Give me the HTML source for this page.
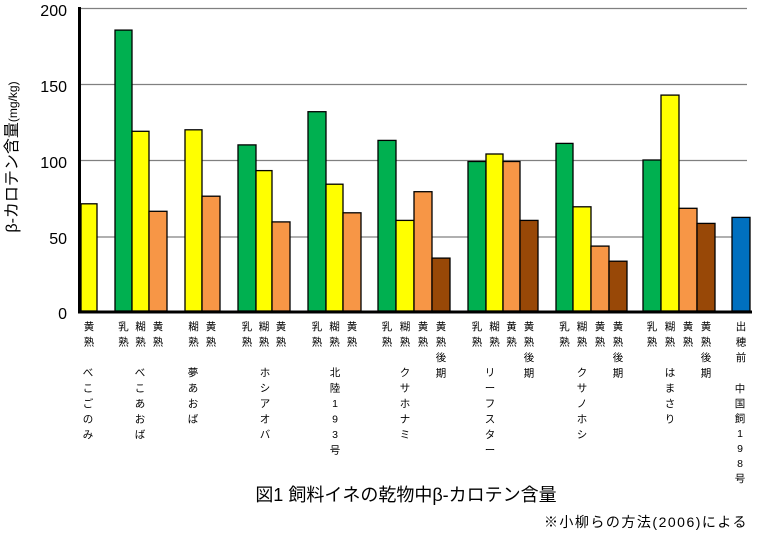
<!DOCTYPE html>
<html><head><meta charset="utf-8"><style>
body{margin:0;background:#fff;width:759px;height:541px;overflow:hidden}
svg text{font-family:"Liberation Sans","Noto Sans CJK JP",sans-serif}
.l{font-size:10.5px;fill:#000;text-anchor:middle}
</style></head><body>
<svg width="759" height="541" viewBox="0 0 759 541" xmlns="http://www.w3.org/2000/svg">
<g stroke="#808080" stroke-width="1.2">
<line x1="80" y1="8.5" x2="747" y2="8.5"/>
<line x1="80" y1="84.5" x2="747" y2="84.5"/>
<line x1="80" y1="160.5" x2="747" y2="160.5"/>
<line x1="80" y1="237" x2="747" y2="237"/>
</g>
<g font-size="16" fill="#000" text-anchor="end">
<text x="67" y="16">200</text><text x="67" y="92">150</text><text x="67" y="168">100</text><text x="67" y="244">50</text><text x="67" y="319">0</text>
</g>
<text transform="translate(17,157) rotate(-90)" font-size="16" text-anchor="middle">β-カロテン含量<tspan font-size="12">(mg/kg)</tspan></text>
<g stroke="#000" stroke-width="1.3">
<rect x="81" y="203.8" width="16" height="107.2" fill="#ffff00"/>
<rect x="115" y="30.1" width="17" height="280.9" fill="#00b050"/>
<rect x="132" y="131.3" width="17" height="179.7" fill="#ffff00"/>
<rect x="149" y="211.3" width="18" height="99.7" fill="#f79646"/>
<rect x="185" y="129.8" width="17" height="181.2" fill="#ffff00"/>
<rect x="202" y="196.2" width="18" height="114.8" fill="#f79646"/>
<rect x="238" y="144.9" width="18" height="166.1" fill="#00b050"/>
<rect x="256" y="170.6" width="16" height="140.4" fill="#ffff00"/>
<rect x="272" y="221.9" width="18" height="89.1" fill="#f79646"/>
<rect x="308" y="111.7" width="18" height="199.3" fill="#00b050"/>
<rect x="326" y="184.2" width="17" height="126.8" fill="#ffff00"/>
<rect x="343" y="212.8" width="18" height="98.2" fill="#f79646"/>
<rect x="378" y="140.4" width="18" height="170.6" fill="#00b050"/>
<rect x="396" y="220.4" width="18" height="90.6" fill="#ffff00"/>
<rect x="414" y="191.7" width="18" height="119.3" fill="#f79646"/>
<rect x="432" y="258.1" width="18" height="52.9" fill="#984807"/>
<rect x="468" y="161.5" width="18" height="149.5" fill="#00b050"/>
<rect x="486" y="154" width="17" height="157" fill="#ffff00"/>
<rect x="503" y="161.5" width="17" height="149.5" fill="#f79646"/>
<rect x="520" y="220.4" width="18" height="90.6" fill="#984807"/>
<rect x="556" y="143.4" width="17" height="167.6" fill="#00b050"/>
<rect x="573" y="206.8" width="18" height="104.2" fill="#ffff00"/>
<rect x="591" y="246.1" width="18" height="64.9" fill="#f79646"/>
<rect x="609" y="261.2" width="18" height="49.8" fill="#984807"/>
<rect x="643" y="160" width="18" height="151" fill="#00b050"/>
<rect x="661" y="95.1" width="18" height="215.9" fill="#ffff00"/>
<rect x="679" y="208.3" width="18" height="102.7" fill="#f79646"/>
<rect x="697" y="223.4" width="18" height="87.6" fill="#984807"/>
<rect x="732" y="217.4" width="18" height="93.6" fill="#0070c0"/>
</g>
<line x1="79.5" y1="7" x2="79.5" y2="313" stroke="#000" stroke-width="3"/>
<line x1="78" y1="312" x2="752" y2="312" stroke="#000" stroke-width="3"/>
<g class="l">
<text class="l" x="89" y="330">黄<tspan x="89" dy="15.5">熟</tspan></text>
<text class="l" x="123.5" y="330">乳<tspan x="123.5" dy="15.5">熟</tspan></text>
<text class="l" x="140.5" y="330">糊<tspan x="140.5" dy="15.5">熟</tspan></text>
<text class="l" x="158" y="330">黄<tspan x="158" dy="15.5">熟</tspan></text>
<text class="l" x="193.5" y="330">糊<tspan x="193.5" dy="15.5">熟</tspan></text>
<text class="l" x="211" y="330">黄<tspan x="211" dy="15.5">熟</tspan></text>
<text class="l" x="247" y="330">乳<tspan x="247" dy="15.5">熟</tspan></text>
<text class="l" x="264" y="330">糊<tspan x="264" dy="15.5">熟</tspan></text>
<text class="l" x="281" y="330">黄<tspan x="281" dy="15.5">熟</tspan></text>
<text class="l" x="317" y="330">乳<tspan x="317" dy="15.5">熟</tspan></text>
<text class="l" x="334.5" y="330">糊<tspan x="334.5" dy="15.5">熟</tspan></text>
<text class="l" x="352" y="330">黄<tspan x="352" dy="15.5">熟</tspan></text>
<text class="l" x="387" y="330">乳<tspan x="387" dy="15.5">熟</tspan></text>
<text class="l" x="405" y="330">糊<tspan x="405" dy="15.5">熟</tspan></text>
<text class="l" x="423" y="330">黄<tspan x="423" dy="15.5">熟</tspan></text>
<text class="l" x="441" y="330">黄<tspan x="441" dy="15.5">熟</tspan><tspan x="441" dy="15.5">後</tspan><tspan x="441" dy="15.5">期</tspan></text>
<text class="l" x="477" y="330">乳<tspan x="477" dy="15.5">熟</tspan></text>
<text class="l" x="494.5" y="330">糊<tspan x="494.5" dy="15.5">熟</tspan></text>
<text class="l" x="511.5" y="330">黄<tspan x="511.5" dy="15.5">熟</tspan></text>
<text class="l" x="529" y="330">黄<tspan x="529" dy="15.5">熟</tspan><tspan x="529" dy="15.5">後</tspan><tspan x="529" dy="15.5">期</tspan></text>
<text class="l" x="564.5" y="330">乳<tspan x="564.5" dy="15.5">熟</tspan></text>
<text class="l" x="582" y="330">糊<tspan x="582" dy="15.5">熟</tspan></text>
<text class="l" x="600" y="330">黄<tspan x="600" dy="15.5">熟</tspan></text>
<text class="l" x="618" y="330">黄<tspan x="618" dy="15.5">熟</tspan><tspan x="618" dy="15.5">後</tspan><tspan x="618" dy="15.5">期</tspan></text>
<text class="l" x="652" y="330">乳<tspan x="652" dy="15.5">熟</tspan></text>
<text class="l" x="670" y="330">糊<tspan x="670" dy="15.5">熟</tspan></text>
<text class="l" x="688" y="330">黄<tspan x="688" dy="15.5">熟</tspan></text>
<text class="l" x="706" y="330">黄<tspan x="706" dy="15.5">熟</tspan><tspan x="706" dy="15.5">後</tspan><tspan x="706" dy="15.5">期</tspan></text>
<text class="l" x="741" y="330">出<tspan x="741" dy="15.5">穂</tspan><tspan x="741" dy="15.5">前</tspan></text>

<text class="l" x="88" y="376">べ<tspan x="88" dy="15.5">こ</tspan><tspan x="88" dy="15.5">ご</tspan><tspan x="88" dy="15.5">の</tspan><tspan x="88" dy="15.5">み</tspan></text>
<text class="l" x="140" y="376">べ<tspan x="140" dy="15.5">こ</tspan><tspan x="140" dy="15.5">あ</tspan><tspan x="140" dy="15.5">お</tspan><tspan x="140" dy="15.5">ば</tspan></text>
<text class="l" x="193" y="376">夢<tspan x="193" dy="15.5">あ</tspan><tspan x="193" dy="15.5">お</tspan><tspan x="193" dy="15.5">ば</tspan></text>
<text class="l" x="265" y="376">ホ<tspan x="265" dy="15.5">シ</tspan><tspan x="265" dy="15.5">ア</tspan><tspan x="265" dy="15.5">オ</tspan><tspan x="265" dy="15.5">バ</tspan></text>
<text class="l" x="335" y="376">北<tspan x="335" dy="15.5">陸</tspan><tspan x="335" dy="15.5">1</tspan><tspan x="335" dy="15.5">9</tspan><tspan x="335" dy="15.5">3</tspan><tspan x="335" dy="15.5">号</tspan></text>
<text class="l" x="405" y="376">ク<tspan x="405" dy="15.5">サ</tspan><tspan x="405" dy="15.5">ホ</tspan><tspan x="405" dy="15.5">ナ</tspan><tspan x="405" dy="15.5">ミ</tspan></text>
<text class="l" x="490" y="376">リ<tspan x="490" dy="15.5">ー</tspan><tspan x="490" dy="15.5">フ</tspan><tspan x="490" dy="15.5">ス</tspan><tspan x="490" dy="15.5">タ</tspan><tspan x="490" dy="15.5">ー</tspan></text>
<text class="l" x="582" y="376">ク<tspan x="582" dy="15.5">サ</tspan><tspan x="582" dy="15.5">ノ</tspan><tspan x="582" dy="15.5">ホ</tspan><tspan x="582" dy="15.5">シ</tspan></text>
<text class="l" x="670" y="376">は<tspan x="670" dy="15.5">ま</tspan><tspan x="670" dy="15.5">さ</tspan><tspan x="670" dy="15.5">り</tspan></text>
<text class="l" x="740" y="392">中<tspan x="740" dy="15">国</tspan><tspan x="740" dy="15">飼</tspan><tspan x="740" dy="15">1</tspan><tspan x="740" dy="15">9</tspan><tspan x="740" dy="15">8</tspan><tspan x="740" dy="15">号</tspan></text>
</g>
<text x="406" y="501" font-size="18" text-anchor="middle">図1 飼料イネの乾物中β-カロテン含量</text>
<text x="748" y="527" font-size="14" text-anchor="end" letter-spacing="1.5">※小柳らの方法(2006)による</text>
</svg>
</body></html>
